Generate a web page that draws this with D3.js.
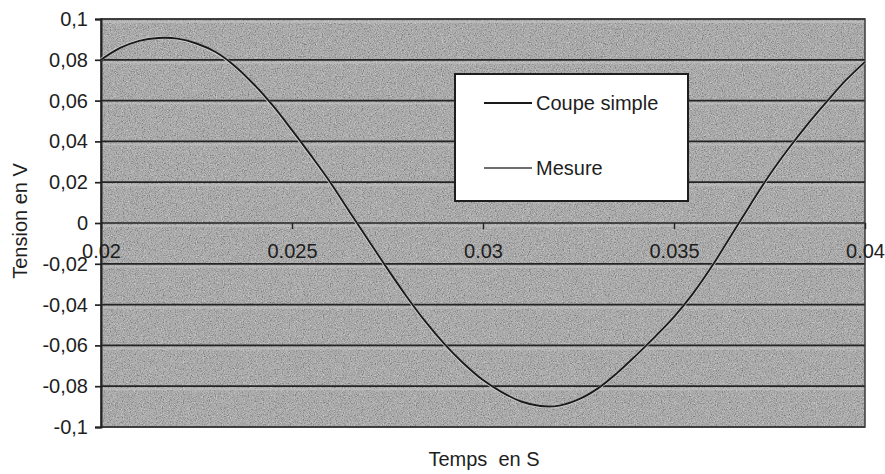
<!DOCTYPE html>
<html>
<head>
<meta charset="utf-8">
<script src="https://cdn.jsdelivr.net/npm/d3@7"></script>
<style>
  html, body { margin: 0; padding: 0; background: #ffffff; }
  svg { display: block; }
  text { font-family: "Liberation Sans", Arial, sans-serif; fill: #1e1e1e; }
</style>
</head>
<body>
<script>
// ---- Data ----
const time = [0.0200,0.0205,0.0210,0.0215,0.0220,0.0225,0.0230,0.0235,0.0240,0.0245,
              0.0250,0.0255,0.0260,0.0265,0.0270,0.0275,0.0280,0.0285,0.0290,0.0295,
              0.0300,0.0305,0.0310,0.0315,0.0320,0.0325,0.0330,0.0335,0.0340,0.0345,
              0.0350,0.0355,0.0360,0.0365,0.0370,0.0375,0.0380,0.0385,0.0390,0.0395,0.0400];
const coupeSimple = [0.0800,0.0858,0.0893,0.0907,0.0904,0.0880,0.0838,0.0770,0.0680,0.0575,
                     0.0455,0.0330,0.0200,0.0057,-0.0085,-0.0225,-0.0360,-0.0485,-0.0595,-0.0690,
                     -0.0770,-0.0830,-0.0875,-0.0897,-0.0895,-0.0865,-0.0812,-0.0737,-0.0650,-0.0558,
                     -0.0460,-0.0345,-0.0210,-0.0060,0.0090,0.0235,0.0365,0.0485,0.0595,0.0700,0.0790];
const mesure = [0.0802,0.0860,0.0894,0.0908,0.0903,0.0878,0.0836,0.0768,0.0678,0.0572,
                0.0452,0.0327,0.0197,0.0054,-0.0088,-0.0228,-0.0362,-0.0487,-0.0597,-0.0692,
                -0.0772,-0.0832,-0.0876,-0.0898,-0.0896,-0.0866,-0.0813,-0.0738,-0.0651,-0.0559,
                -0.0461,-0.0346,-0.0211,-0.0061,0.0088,0.0233,0.0363,0.0483,0.0593,0.0698,0.0789];
const seriesNames = ["Coupe simple", "Mesure"];
const xTicks = [0.02, 0.025, 0.03, 0.035, 0.04];
const xTickLabels = ["0.02", "0.025", "0.03", "0.035", "0.04"];
const yTicks = [0.1, 0.08, 0.06, 0.04, 0.02, 0, -0.02, -0.04, -0.06, -0.08, -0.1];
const yTickLabels = ["0,1", "0,08", "0,06", "0,04", "0,02", "0", "-0,02", "-0,04", "-0,06", "-0,08", "-0,1"];
const xTitle = "Temps  en S";
const yTitle = "Tension en V";

// ---- Layout ----
const W = 885, H = 474;
const plot = { left: 101, right: 865, top: 19, bottom: 427 };
const FONT = '"Liberation Sans", Arial, sans-serif';

const svg = d3.select("body").append("svg").attr("width", W).attr("height", H);

const x = d3.scaleLinear().domain([0.02, 0.04]).range([plot.left, plot.right]);
const y = d3.scaleLinear().domain([-0.1, 0.1]).range([plot.bottom, plot.top]);

// texture filters
const defs = svg.append("defs");
function grain(id, seed, col, thr) {
  const f = defs.append("filter").attr("id", id).attr("x", 0).attr("y", 0).attr("width", 1).attr("height", 1);
  f.append("feTurbulence").attr("type", "fractalNoise").attr("baseFrequency", "0.85")
    .attr("numOctaves", 2).attr("seed", seed).attr("result", "n");
  f.append("feColorMatrix").attr("in", "n").attr("type", "matrix")
    .attr("values", `0 0 0 0 ${col}  0 0 0 0 ${col}  0 0 0 0 ${col}  2.2 0 0 0 ${thr}`);
}
grain("grainLight", 3, 1, -1.1);
grain("grainDark", 9, 0, -1.1);

const pw = plot.right - plot.left, ph = plot.bottom - plot.top;
svg.append("rect").attr("x", plot.left).attr("y", plot.top).attr("width", pw).attr("height", ph)
  .attr("fill", "#ababab");
svg.append("rect").attr("x", plot.left).attr("y", plot.top).attr("width", pw).attr("height", ph)
  .attr("fill", "#fff").attr("filter", "url(#grainLight)").attr("opacity", 0.55);
svg.append("rect").attr("x", plot.left).attr("y", plot.top).attr("width", pw).attr("height", ph)
  .attr("fill", "#000").attr("filter", "url(#grainDark)").attr("opacity", 0.4);

// lighter bands below gridlines
svg.append("g").selectAll("line").data(yTicks.filter(v => v > -0.1)).join("line")
  .attr("x1", plot.left).attr("x2", plot.right)
  .attr("y1", d => y(d) + 3).attr("y2", d => y(d) + 3)
  .attr("stroke", "#c4c4c4").attr("stroke-width", 2).attr("opacity", 0.6);

// gridlines
svg.append("g").selectAll("line").data(yTicks).join("line")
  .attr("x1", plot.left).attr("x2", plot.right)
  .attr("y1", d => y(d)).attr("y2", d => y(d))
  .attr("stroke", "#242424").attr("stroke-width", 1.7);

// plot border
svg.append("rect").attr("x", plot.left).attr("y", plot.top).attr("width", pw).attr("height", ph)
  .attr("fill", "none").attr("stroke", "#3a3a3a").attr("stroke-width", 1.5);

// y axis
const yAxis = d3.axisLeft(y).tickValues(yTicks).tickSize(6).tickPadding(7)
  .tickFormat((d, i) => yTickLabels[i]);
const gy = svg.append("g").attr("transform", `translate(${plot.left},0)`).call(yAxis);
gy.select(".domain").attr("stroke", "#222").attr("stroke-width", 2);
gy.selectAll(".tick line").attr("stroke", "#222").attr("stroke-width", 1.7);
gy.selectAll(".tick text").attr("font-size", 20).attr("fill", "#1e1e1e").style("font-family", FONT);

// x axis at y=0
const xAxis = d3.axisBottom(x).tickValues(xTicks).tickSize(6).tickPadding(15)
  .tickFormat((d, i) => xTickLabels[i]);
const gx = svg.append("g").attr("transform", `translate(0,${y(0)})`).call(xAxis);
gx.select(".domain").remove();
gx.selectAll(".tick line").attr("stroke", "#222").attr("stroke-width", 1.4);
gx.selectAll(".tick text").attr("font-size", 20).attr("fill", "#1e1e1e").style("font-family", FONT);

// lines
const dataC = time.map((t, i) => ({ t, v: coupeSimple[i] }));
const dataM = time.map((t, i) => ({ t, v: mesure[i] }));
const line = d3.line().x(d => x(d.t)).y(d => y(d.v)).curve(d3.curveCatmullRom);

svg.append("path").datum(dataM).attr("d", line)
  .attr("fill", "none").attr("stroke", "#d4d4d4").attr("stroke-width", 2.8);
svg.append("path").datum(dataC).attr("d", line)
  .attr("fill", "none").attr("stroke", "#1a1a1a").attr("stroke-width", 1.9);

// legend
const lg = svg.append("g");
lg.append("rect").attr("x", 455).attr("y", 74).attr("width", 233).attr("height", 127)
  .attr("fill", "#ffffff").attr("stroke", "#1e1e1e").attr("stroke-width", 2);
const legendColors = ["#1a1a1a", "#3c3c3c"];
const legendY = [103, 168];
seriesNames.forEach((name, i) => {
  lg.append("line").attr("x1", 484).attr("x2", 532).attr("y1", legendY[i]).attr("y2", legendY[i])
    .attr("stroke", legendColors[i]).attr("stroke-width", i === 0 ? 2 : 1.6);
  lg.append("text").attr("x", 536).attr("y", legendY[i]).attr("dy", "0.35em")
    .attr("font-size", 20).text(name);
});

// axis titles
svg.append("text").attr("x", 484).attr("y", 466)
  .attr("text-anchor", "middle").attr("font-size", 20)
  .attr("xml:space", "preserve").text(xTitle);
svg.append("text").attr("transform", `translate(27,221) rotate(-90)`)
  .attr("text-anchor", "middle").attr("font-size", 20).text(yTitle);
</script>
</body>
</html>
